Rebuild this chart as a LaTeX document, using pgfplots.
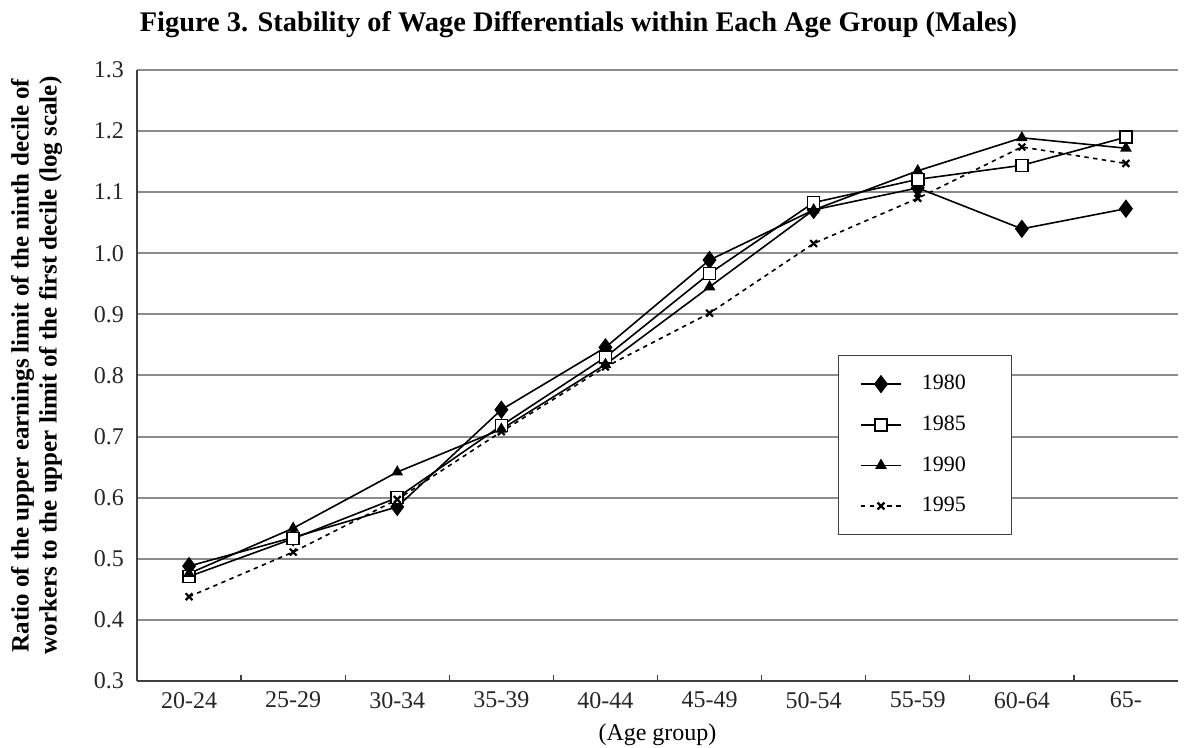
\documentclass[border=0pt]{standalone}
\usepackage{fontspec}
\setmainfont{Liberation Serif}
\usepackage{pgfplots}
\pgfplotsset{compat=1.18}
\begin{document}
\begin{tikzpicture}
\useasboundingbox (-68.5pt,-33.5pt) rectangle (525pt,340.5pt);
\begin{axis}[
  at={(0,0)}, anchor=south west,
  scale only axis, width=520.5pt, height=305.5pt,
  xmin=-0.5, xmax=9.5, ymin=0.3, ymax=1.3,
  axis x line*=bottom, axis y line*=left,
  axis line style={black!75, line width=0.8pt},
  xtick={0,...,9},
  xticklabels={20-24,25-29,30-34,35-39,40-44,45-49,50-54,55-59,60-64,65-},
  major x tick style={draw=none},
  minor xtick={0.5,1.5,...,8.5},
  minor x tick style={black!75, line width=0.6pt},
  minor tick length=3pt,
  ytick={0.3,0.4,...,1.31},
  major y tick style={draw=none},
  ymajorgrids=true,
  grid style={black!45, line width=1pt},
  /pgf/number format/fixed,
  /pgf/number format/fixed zerofill,
  /pgf/number format/precision=1,
  /pgf/number format/assume math mode=true,
  tick label style={font=\fontsize{12}{14}\selectfont, text=black!85},
  xticklabel style={yshift=-2pt},
  yticklabel style={xshift=-3pt},
  xlabel={(Age group)},
  xlabel style={font=\fontsize{12}{14}\selectfont, yshift=-1pt},
  ylabel={Ratio of the upper earnings limit of the ninth decile of\\workers to the upper limit of the first decile (log scale)},
  ylabel style={font=\bfseries\fontsize{12.5}{14}\selectfont, align=center, yshift=9pt, xshift=5pt},
  title={Figure 3. Stability of Wage Differentials within Each Age Group (Males)},
  title style={font=\bfseries\fontsize{14.2}{16}\selectfont, at={(rel axis cs:0.5,1)}, anchor=center, yshift=16.5pt, xshift=-39.5pt},
  legend image code/.code={\draw[mark repeat=2,mark phase=2,#1] plot coordinates {(0pt,0pt)(10pt,0pt)(20pt,0pt)};},
  legend style={at={(rel axis cs:0.673,0.534)}, anchor=north west, draw=black!75, line width=0.6pt,
    font=\fontsize{11}{13}\selectfont, row sep=7.5pt, inner xsep=11pt, inner ysep=8pt,
    /tikz/every odd column/.append style={column sep=8pt}},
  legend cell align=left,
  clip=false,
]
\addplot[black, line width=0.8pt, mark=diamond*, mark size=4pt, mark options={solid, fill=black}]
 coordinates {(0,0.488)(1,0.535)(2,0.585)(3,0.744)(4,0.846)(5,0.989)(6,1.071)(7,1.107)(8,1.040)(9,1.073)};
\addlegendentry{1980\hspace*{10pt}}
\addplot[black, line width=0.8pt, mark=square*, mark size=3pt, mark options={solid, fill=white}]
 coordinates {(0,0.471)(1,0.533)(2,0.600)(3,0.718)(4,0.830)(5,0.967)(6,1.083)(7,1.121)(8,1.144)(9,1.190)};
\addlegendentry{1985\hspace*{10pt}}
\addplot[black, line width=0.8pt, mark=triangle*, mark size=2.6pt, mark options={solid, fill=black}]
 coordinates {(0,0.476)(1,0.550)(2,0.642)(3,0.712)(4,0.818)(5,0.945)(6,1.071)(7,1.135)(8,1.189)(9,1.172)};
\addlegendentry{1990\hspace*{10pt}}
\addplot[black, line width=0.8pt, dash pattern=on 2.2pt off 2.2pt, mark=x, mark size=2.4pt, mark options={solid, line width=1.1pt}]
 coordinates {(0,0.438)(1,0.511)(2,0.597)(3,0.708)(4,0.814)(5,0.902)(6,1.016)(7,1.090)(8,1.174)(9,1.147)};
\addlegendentry{1995\hspace*{10pt}}
\end{axis}
\end{tikzpicture}
\end{document}
